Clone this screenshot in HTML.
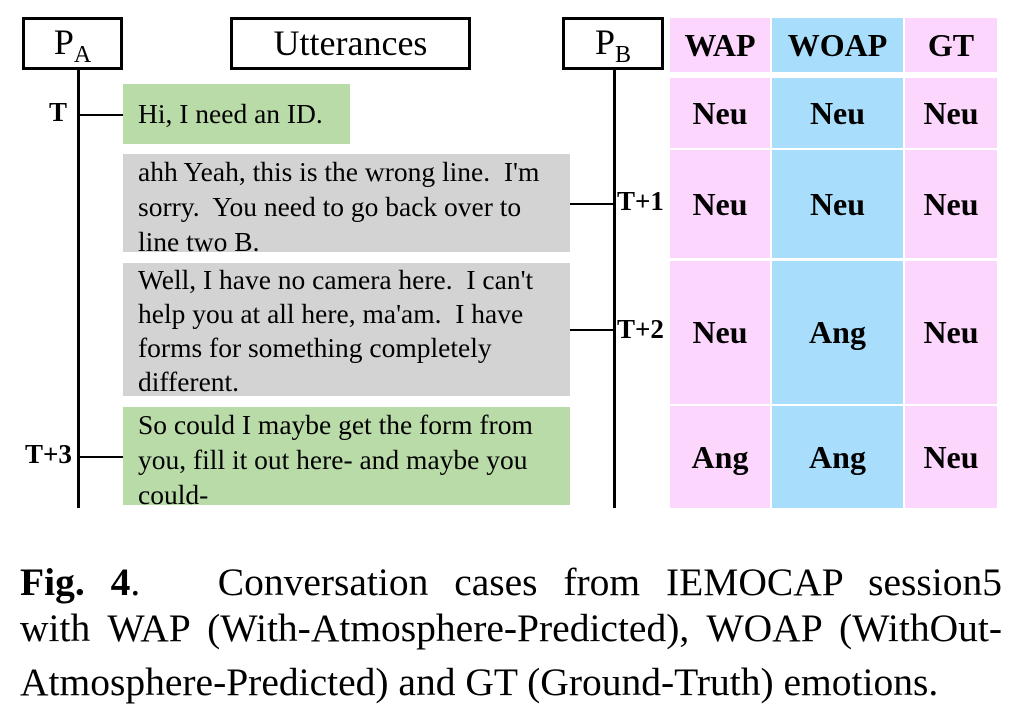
<!DOCTYPE html>
<html><head><meta charset="utf-8"><style>
body{margin:0;width:1036px;height:712px;background:#fff;position:relative;overflow:hidden;font-family:"Liberation Serif",serif;color:#000}
.a{position:absolute;box-sizing:border-box}
.box{border:3px solid #000;background:#fff;font-size:36px;text-align:center}
.ln{background:#000}
.utt{font-size:27.5px;line-height:35px;padding:5px 0 0 15px;white-space:nowrap}
.g{background:#b9dba8}.y{background:#d3d3d3}
.p{background:#fdd6fd}.b{background:#a8defc}
.c{display:flex;align-items:center;justify-content:center;font-weight:bold;font-size:32px}
.lab{font-weight:bold;font-size:27px;line-height:30px}
.cap{font-size:39.5px;left:20px;width:982px;white-space:nowrap;line-height:46px;text-align:justify;text-align-last:justify}
</style></head><body>
<div class="a box" style="left:22px;top:17px;width:101px;height:53px;line-height:44px">P<sub style="font-size:24px">A</sub></div>
<div class="a box" style="left:230px;top:17px;width:241px;height:53px;line-height:46px">Utterances</div>
<div class="a box" style="left:562px;top:17px;width:102px;height:53px;line-height:44px">P<sub style="font-size:24px">B</sub></div>

<div class="a ln" style="left:77px;top:70px;width:3px;height:438px"></div>
<div class="a ln" style="left:613px;top:70px;width:3px;height:438px"></div>

<div class="a lab" style="left:49px;top:97px">T</div>
<div class="a ln" style="left:78px;top:114px;width:45px;height:2px"></div>
<div class="a utt g" style="left:123px;top:84px;width:227px;height:60px;padding-top:12px">Hi, I need an ID.</div>

<div class="a utt y" style="left:123px;top:154px;width:447px;height:98px;padding-top:0px">ahh Yeah, this is the wrong line.&nbsp; I'm<br>sorry.&nbsp; You need to go back over to<br>line two B.</div>
<div class="a ln" style="left:570px;top:203px;width:44px;height:2px"></div>
<div class="a lab" style="left:617px;top:186px">T+1</div>

<div class="a utt y" style="left:123px;top:263px;width:447px;height:133px;padding-top:0px;line-height:34px">Well, I have no camera here.&nbsp; I can't<br>help you at all here, ma'am.&nbsp; I have<br>forms for something completely<br>different.</div>
<div class="a ln" style="left:570px;top:329px;width:44px;height:2px"></div>
<div class="a lab" style="left:617px;top:314px">T+2</div>

<div class="a lab" style="left:25px;top:439px">T+3</div>
<div class="a ln" style="left:78px;top:456px;width:45px;height:2px"></div>
<div class="a utt g" style="left:123px;top:407px;width:447px;height:98px;padding-top:0px">So could I maybe get the form from<br>you, fill it out here- and maybe you<br>could-</div>

<div class="a p c" style="left:670px;top:18px;width:100px;height:54px">WAP</div>
<div class="a b c" style="left:772px;top:18px;width:131px;height:54px">WOAP</div>
<div class="a p c" style="left:905px;top:18px;width:92px;height:54px">GT</div>

<div class="a p c" style="left:670px;top:78px;width:100px;height:70px">Neu</div>
<div class="a b c" style="left:772px;top:78px;width:131px;height:70px">Neu</div>
<div class="a p c" style="left:905px;top:78px;width:92px;height:70px">Neu</div>

<div class="a p c" style="left:670px;top:150px;width:100px;height:108px">Neu</div>
<div class="a b c" style="left:772px;top:150px;width:131px;height:108px">Neu</div>
<div class="a p c" style="left:905px;top:150px;width:92px;height:108px">Neu</div>

<div class="a p c" style="left:670px;top:261px;width:100px;height:143px">Neu</div>
<div class="a b c" style="left:772px;top:261px;width:131px;height:143px">Ang</div>
<div class="a p c" style="left:905px;top:261px;width:92px;height:143px">Neu</div>

<div class="a p c" style="left:670px;top:406px;width:100px;height:102px">Ang</div>
<div class="a b c" style="left:772px;top:406px;width:131px;height:102px">Ang</div>
<div class="a p c" style="left:905px;top:406px;width:92px;height:102px">Neu</div>

<div class="a cap" style="top:559px"><b>Fig.</b> <b>4</b>.&nbsp;&nbsp; Conversation cases from IEMOCAP session5</div>
<div class="a cap" style="top:605px">with WAP (With-Atmosphere-Predicted), WOAP (WithOut-</div>
<div class="a cap" style="top:659px;text-align:left;text-align-last:left">Atmosphere-Predicted) and GT (Ground-Truth) emotions.</div>
</body></html>
